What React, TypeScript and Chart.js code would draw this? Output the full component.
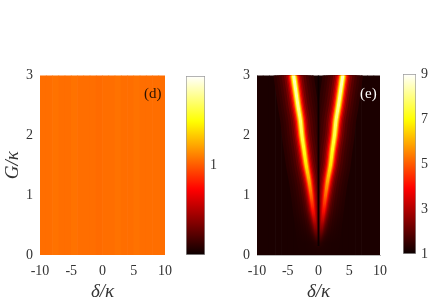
import React, { useEffect, useRef } from 'react';
import { Chart, registerables } from 'chart.js';

Chart.register(...registerables);

// ---------- shared axes ----------
const deltaTicks = [-10, -5, 0, 5, 10];
const gTicks = [0, 1, 2, 3];

// ---------- panel (d): nearly uniform field ----------
const dColumnDelta = [-9.5, -8.5, -7.5, -6.5, -5.5, -4.5, -3.5, -2.5, -1.5, -0.5, 0.5, 1.5, 2.5, 3.5, 4.5, 5.5, 6.5, 7.5, 8.5, 9.5];
const dColumnLevel = [1.06, 1.06, 1.07, 1.06, 1.06, 1.07, 1.06, 1.06, 1.06, 1.05, 1.06, 1.06, 1.07, 1.06, 1.06, 1.07, 1.06, 1.06, 1.06, 1.06];
const dBarRange = [0, 2];
const dBarTicks = [1];

// ---------- panel (e): V-shaped ridges ----------
const eColumnDelta = dColumnDelta;
const eColumnLevel = [1.2, 1.2, 1.2, 1.2, 1.2, 1.2, 1.2, 1.2, 1.2, 1.2, 1.2, 1.2, 1.2, 1.2, 1.2, 1.2, 1.2, 1.2, 1.2, 1.2];
const ridgeG = [0.2, 0.3, 0.5, 0.75, 1.0, 1.25, 1.5, 1.75, 2.0, 2.25, 2.5, 2.75, 3.0];
const ridgeRightDelta = [0.15, 0.3, 0.55, 0.85, 1.15, 1.5, 1.95, 2.25, 2.6, 2.85, 3.25, 3.6, 3.95];
const ridgeLeftDelta = [-0.15, -0.3, -0.55, -0.9, -1.2, -1.55, -2.0, -2.35, -2.7, -2.95, -3.35, -3.7, -4.05];
const ridgePeak = [1.4, 1.8, 2.8, 4.2, 5.3, 6.2, 6.9, 7.4, 7.8, 8.1, 8.4, 8.6, 8.8];
const centerLineG = [0.15, 3];
const centerLineLevel = 1.0;
const eBarRange = [1, 9];
const eBarTicks = [1, 3, 5, 7, 9];

// ---------- styles ----------
const glowLayers = [
  { width: 40, level: 0.03 },
  { width: 34, level: 0.045 },
  { width: 29, level: 0.065 },
  { width: 24, level: 0.096 },
  { width: 19, level: 0.145 },
  { width: 15, level: 0.21 },
  { width: 12, level: 0.3 },
  { width: 9.5, level: 0.42 },
  { width: 7, level: 0.58 },
  { width: 5, level: 0.75 },
  { width: 3, level: 0.96 },
];
const FONT = 'Liberation Serif';
const TICK_COLOR = '#333';
const tickFont = { family: FONT, size: 14 };
const titleFont = { family: FONT, size: 19, style: 'italic' as const };

const clamp = (v: number) => Math.max(0, Math.min(1, v));
function hot(t: number): string {
  t = clamp(t);
  const r = clamp((t * 63 + 1) / 24);
  const g = clamp((t * 63 + 1 - 24) / 24);
  const b = clamp((t * 63 + 1 - 48) / 16);
  return `rgb(${Math.round(r * 255)},${Math.round(g * 255)},${Math.round(b * 255)})`;
}

function fixedTicks(values: number[]) {
  return (s: any) => {
    s.ticks = values.map((v) => ({ value: v }));
  };
}

function heatAxes(yTitle: boolean, yWidth: number) {
  return {
    x: {
      type: 'linear' as const,
      min: deltaTicks[0],
      max: deltaTicks[deltaTicks.length - 1],
      offset: false,
      afterBuildTicks: fixedTicks(deltaTicks),
      afterFit: (s: any) => {
        s.height = 50;
      },
      grid: { display: false, drawTicks: false, offset: false },
      border: { display: !yTitle, color: '#b8b8b8', width: 1 },
      ticks: { font: tickFont, color: TICK_COLOR, padding: 8, maxRotation: 0, autoSkip: false },
      title: { display: true, text: 'δ/κ', font: titleFont, color: TICK_COLOR, padding: { top: 2, bottom: 2 } },
    },
    y: {
      type: 'linear' as const,
      min: gTicks[0],
      max: gTicks[gTicks.length - 1],
      afterBuildTicks: fixedTicks(gTicks),
      afterFit: (s: any) => {
        s.width = yWidth;
      },
      grid: { display: false, drawTicks: false },
      border: { display: !yTitle, color: '#b8b8b8', width: 1 },
      ticks: { font: tickFont, color: TICK_COLOR, padding: 7 },
      title: { display: yTitle, text: 'G/κ', font: titleFont, color: TICK_COLOR, padding: { top: 2, bottom: 2 } },
    },
  };
}

const baseOptions = {
  animation: false as const,
  responsive: false,
  devicePixelRatio: 1,
  events: [] as any[],
  plugins: { legend: { display: false }, tooltip: { enabled: false } },
};

function buildPanelD(canvas: HTMLCanvasElement) {
  return new Chart(canvas, {
    type: 'bar',
    data: {
      datasets: [
        {
          data: dColumnDelta.map((x) => ({ x, y: [gTicks[0], gTicks[gTicks.length - 1]] })) as any,
          backgroundColor: dColumnLevel.map((v) => hot((v - dBarRange[0]) / (dBarRange[1] - dBarRange[0]))),
          borderWidth: 0,
          barPercentage: 1,
          categoryPercentage: 1,
        },
      ],
    },
    options: {
      ...baseOptions,
      layout: { padding: { left: 0, right: 13, top: 15, bottom: 0 } },
      scales: heatAxes(true, 40) as any,
    },
  });
}

function ridgeGradient(chart: any, level: number) {
  const { ctx, chartArea, scales } = chart;
  if (!chartArea || !scales.y) return 'rgba(0,0,0,0)';
  const y = scales.y;
  const y0 = y.getPixelForValue(gTicks[0]);
  const y1 = y.getPixelForValue(gTicks[gTicks.length - 1]);
  const grad = ctx.createLinearGradient(0, y0, 0, y1);
  const bg = eColumnLevel[0];
  ridgeG.forEach((gv, i) => {
    const v = bg + (ridgePeak[i] - bg) * level;
    const off = clamp((y.getPixelForValue(gv) - y0) / (y1 - y0));
    grad.addColorStop(off, hot((v - eBarRange[0]) / (eBarRange[1] - eBarRange[0])));
  });
  return grad;
}

function buildPanelE(canvas: HTMLCanvasElement) {
  const datasets: any[] = [
    {
      type: 'bar',
      data: eColumnDelta.map((x) => ({ x, y: [gTicks[0], gTicks[gTicks.length - 1]] })),
      backgroundColor: eColumnLevel.map((v) => hot((v - eBarRange[0]) / (eBarRange[1] - eBarRange[0]))),
      borderWidth: 0,
      barPercentage: 1,
      categoryPercentage: 1,
      order: 100,
    },
  ];
  glowLayers.forEach((layer, li) => {
    [ridgeLeftDelta, ridgeRightDelta].forEach((deltas) => {
      datasets.push({
        type: 'line',
        data: ridgeG.map((g, i) => ({ x: deltas[i], y: g })),
        borderColor: (c: any) => ridgeGradient(c.chart, layer.level),
        borderWidth: layer.width,
        borderCapStyle: 'round',
        borderJoinStyle: 'round',
        pointRadius: 0,
        tension: 0.3,
        fill: false,
        clip: 0,
        order: 50 - li,
      });
    });
  });
  datasets.push({
    type: 'line',
    data: centerLineG.map((g) => ({ x: 0, y: g })),
    borderColor: hot((centerLineLevel - eBarRange[0]) / (eBarRange[1] - eBarRange[0])),
    borderWidth: 1.8,
    pointRadius: 0,
    fill: false,
    clip: 0,
    order: 0,
  });
  return new Chart(canvas, {
    type: 'bar',
    data: { datasets },
    options: {
      ...baseOptions,
      layout: { padding: { left: 0, right: 12, top: 14, bottom: 0 } },
      scales: heatAxes(false, 37) as any,
    },
  });
}

function buildColorbar(canvas: HTMLCanvasElement, range: number[], ticks: number[], pad: any, axisWidth: number) {
  return new Chart(canvas, {
    type: 'bar',
    data: {
      labels: [''],
      datasets: [
        {
          data: [[range[0], range[1]]] as any,
          backgroundColor: (c: any) => {
            const { chart } = c;
            if (!chart.chartArea || !chart.scales.y) return 'black';
            const y = chart.scales.y;
            const y0 = y.getPixelForValue(range[0]);
            const y1 = y.getPixelForValue(range[1]);
            const grad = chart.ctx.createLinearGradient(0, y0, 0, y1);
            for (let k = 0; k <= 64; k++) grad.addColorStop(k / 64, hot(k / 64));
            return grad;
          },
          borderColor: '#9a9a9a',
          borderWidth: 1,
          borderSkipped: false,
          barPercentage: 1,
          categoryPercentage: 1,
        },
      ],
    },
    options: {
      ...baseOptions,
      layout: { padding: pad },
      scales: {
        x: { display: false },
        y: {
          position: 'right',
          min: range[0],
          max: range[1],
          afterBuildTicks: fixedTicks(ticks),
          afterFit: (s: any) => {
            s.width = axisWidth;
          },
          grid: { display: false, drawTicks: false },
          border: { display: false },
          ticks: { font: tickFont, color: TICK_COLOR, padding: 5 },
        },
      } as any,
    },
  });
}

function ChartCanvas(props: { left: number; top: number; width: number; height: number; build: (c: HTMLCanvasElement) => Chart }) {
  const ref = useRef<HTMLCanvasElement>(null);
  useEffect(() => {
    const chart = props.build(ref.current as HTMLCanvasElement);
    return () => chart.destroy();
  }, []);
  return (
    <canvas
      ref={ref}
      width={props.width}
      height={props.height}
      style={{ position: 'absolute', left: props.left, top: props.top, width: props.width, height: props.height }}
    />
  );
}

export default function App() {
  return (
    <div style={{ position: 'absolute', left: 0, top: 0, width: 436, height: 305, background: '#fff', overflow: 'hidden' }}>
      <ChartCanvas left={0} top={60} width={180} height={245} build={buildPanelD} />
      <ChartCanvas
        left={180}
        top={60}
        width={50}
        height={245}
        build={(c) => buildColorbar(c, dBarRange, dBarTicks, { left: 6, top: 16, bottom: 50, right: 0 }, 25)}
      />
      <ChartCanvas left={220} top={60} width={175} height={245} build={buildPanelE} />
      <ChartCanvas
        left={395}
        top={60}
        width={41}
        height={245}
        build={(c) => buildColorbar(c, eBarRange, eBarTicks, { left: 8, top: 14, bottom: 51, right: 0 }, 20)}
      />
      <div style={{ position: 'absolute', left: 144, top: 85, font: `15px "${FONT}"`, color: '#2a1200', lineHeight: '16px' }}>(d)</div>
      <div style={{ position: 'absolute', left: 360, top: 85, font: `15px "${FONT}"`, color: '#ffffff', lineHeight: '16px' }}>(e)</div>
    </div>
  );
}
